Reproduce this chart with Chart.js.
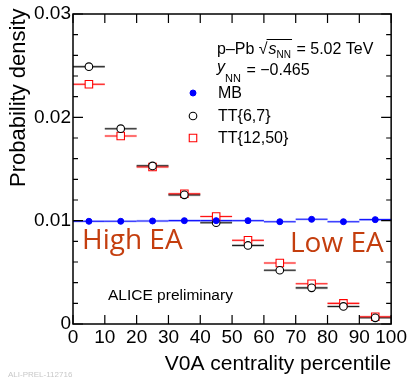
<!DOCTYPE html>
<html>
<head>
<meta charset="utf-8">
<script src="https://cdn.jsdelivr.net/npm/chart.js@4"></script>
<style>
  html, body { margin: 0; padding: 0; background: #fff; }
  #wrap { width: 409px; height: 378px; }
</style>
</head>
<body>
<div id="wrap"><canvas id="Density" width="409" height="378"></canvas></div>
<script>
// V0A centrality bins (percentile), bin centres and width
var binCenters = [5, 15, 25, 35, 45, 55, 65, 75, 85, 95];
var binWidth = 10;

// probability density per bin
var mbValues = [0.00994, 0.00994, 0.00997, 0.0100, 0.0100, 0.0100, 0.0099, 0.01013, 0.0099, 0.0101];
var tt67Values = [0.0249, 0.0189, 0.0153, 0.0125, 0.0098, 0.0076, 0.0052, 0.0035, 0.0017, 0.0006];
var tt1250Values = [0.0232, 0.0182, 0.0152, 0.0126, 0.0104, 0.0081, 0.0059, 0.0039, 0.0020, 0.0007];

var xTicks = [0, 10, 20, 30, 40, 50, 60, 70, 80, 90, 100];
var yTickLabels = ['0', '0.01', '0.02', '0.03'];

function points(vals) {
    return binCenters.map(function (c, i) { return { x: c, y: vals[i] }; });
}

var FONT = '"Liberation Sans", Arial, sans-serif';

// horizontal bin-width bars behind markers
var binBars = {
    id: 'binBars',
    beforeDatasetsDraw: function (chart) {
        var ctx = chart.ctx, xs = chart.scales.x, ys = chart.scales.y;
        ctx.save();
        chart.data.datasets.forEach(function (ds) {
            ds.data.forEach(function (p) {
                var x0 = xs.getPixelForValue(p.x - binWidth / 2);
                var x1 = xs.getPixelForValue(p.x + binWidth / 2);
                var y = ys.getPixelForValue(p.y);
                if (ds.bandColor) {
                    ctx.strokeStyle = ds.bandColor;
                    ctx.lineWidth = 2.6;
                    ctx.beginPath(); ctx.moveTo(x0, y); ctx.lineTo(x1, y); ctx.stroke();
                }
                ctx.strokeStyle = ds.barColor;
                ctx.lineWidth = 1.1;
                ctx.beginPath(); ctx.moveTo(x0, y); ctx.lineTo(x1, y); ctx.stroke();
            });
        });
        ctx.restore();
    }
};

// frame with inward ticks on all four sides, plus the text labels
var frame = {
    id: 'frame',
    afterDraw: function (chart) {
        var ctx = chart.ctx, a = chart.chartArea, xs = chart.scales.x, ys = chart.scales.y;
        ctx.save();
        ctx.strokeStyle = '#000';
        ctx.lineWidth = 1.5;
        ctx.strokeRect(a.left, a.top, a.right - a.left, a.bottom - a.top);
        ctx.lineWidth = 1.2;
        ctx.beginPath();
        xTicks.forEach(function (v) {
            var x = xs.getPixelForValue(v);
            ctx.moveTo(x, a.bottom); ctx.lineTo(x, a.bottom - 9);
            ctx.moveTo(x, a.top); ctx.lineTo(x, a.top + 9);
        });
        for (var k = 0; k <= 15; k++) {
            var v = k * 0.002;
            var y = ys.getPixelForValue(v);
            var len = (k % 5 === 0) ? 10 : 5;
            ctx.moveTo(a.left, y); ctx.lineTo(a.left + len, y);
            ctx.moveTo(a.right, y); ctx.lineTo(a.right - len, y);
        }
        ctx.stroke();

        ctx.fillStyle = '#000';
        ctx.textBaseline = 'alphabetic';

        // axis titles
        ctx.font = '21px ' + FONT;
        ctx.textAlign = 'right';
        ctx.fillText('V0A centrality percentile', a.right, 370);
        ctx.save();
        ctx.translate(25, 187);
        ctx.rotate(-Math.PI / 2);
        ctx.textAlign = 'left';
        ctx.font = '22px ' + FONT;
        ctx.fillText('Probability density', 0, 0);
        ctx.restore();

        // collision system
        ctx.textAlign = 'left';
        var x = 217;
        ctx.font = '16px ' + FONT;
        ctx.fillText('p\u2013Pb ', x, 54);
        x += ctx.measureText('p\u2013Pb ').width;
        ctx.fillText('\u221A', x, 54);
        var sx = x + ctx.measureText('\u221A').width;
        ctx.font = 'italic 16px ' + FONT;
        ctx.fillText('s', sx + 1, 54);
        var nx = sx + 1 + ctx.measureText('s').width;
        ctx.font = '10px ' + FONT;
        ctx.fillText('NN', nx, 58);
        var ex = nx + ctx.measureText('NN').width + 1;
        ctx.lineWidth = 1;
        ctx.beginPath(); ctx.moveTo(sx - 1, 39.5); ctx.lineTo(ex, 39.5); ctx.stroke();
        ctx.font = '16px ' + FONT;
        ctx.fillText(' = 5.02 TeV', ex, 54);

        ctx.font = 'italic 16px ' + FONT;
        ctx.fillText('y', 217, 72);
        ctx.font = '11px ' + FONT;
        ctx.fillText('NN', 225, 82);
        ctx.font = '16px ' + FONT;
        ctx.fillText(' = \u22120.465', 242, 75);

        // legend
        var legend = [
            { label: 'MB', y: 93 },
            { label: 'TT{6,7}', y: 116 },
            { label: 'TT{12,50}', y: 138 }
        ];
        ctx.textBaseline = 'middle';
        legend.forEach(function (e, i) {
            var ds = chart.data.datasets[i];
            ctx.fillStyle = ds.backgroundColor;
            ctx.strokeStyle = ds.borderColor;
            ctx.lineWidth = ds.borderWidth;
            ctx.beginPath();
            if (ds.pointStyle === 'rect') {
                var h = ds.pointRadius * Math.SQRT1_2;
                ctx.rect(193 - h, e.y - h, 2 * h, 2 * h);
            } else {
                ctx.arc(193, e.y, ds.pointRadius, 0, Math.PI * 2);
            }
            ctx.fill(); ctx.stroke();
            ctx.fillStyle = '#000';
            ctx.font = '16px ' + FONT;
            ctx.fillText(e.label, 218, e.y + 1);
        });

        // annotations
        ctx.textBaseline = 'alphabetic';
        ctx.fillStyle = 'rgb(196,62,14)';
        ctx.font = '28px "Open Sans", sans-serif';
        ctx.fillText('High EA', 82, 249);
        ctx.fillText('Low EA', 290, 252);
        ctx.fillStyle = '#000';
        ctx.font = '15.5px ' + FONT;
        ctx.fillText('ALICE preliminary', 108, 300);
        ctx.fillStyle = '#c8c8c8';
        ctx.font = '8px ' + FONT;
        ctx.fillText('ALI-PREL-112716', 8, 377);
        ctx.restore();
    }
};

var ctx = document.getElementById('Density').getContext('2d');
var chart = new Chart(ctx, {
    type: 'scatter',
    data: {
        datasets: [{
            label: 'MB',
            data: points(mbValues),
            pointStyle: 'circle',
            pointRadius: 3,
            borderWidth: 1,
            backgroundColor: 'rgb(0,0,255)',
            borderColor: 'rgb(0,0,255)',
            barColor: 'rgb(20,20,255)',
            bandColor: 'rgba(90,110,255,0.35)'
        }, {
            label: 'TT{6,7}',
            data: points(tt67Values),
            pointStyle: 'circle',
            pointRadius: 3.8,
            borderWidth: 1.1,
            backgroundColor: '#fff',
            borderColor: '#000',
            barColor: 'rgb(30,30,30)',
            bandColor: 'rgba(0,0,0,0.25)'
        }, {
            label: 'TT{12,50}',
            data: points(tt1250Values),
            pointStyle: 'rect',
            pointRadius: 5.3,
            borderWidth: 1.1,
            backgroundColor: '#fff',
            borderColor: 'rgb(255,0,0)',
            barColor: 'rgb(255,20,20)',
            bandColor: 'rgba(255,0,0,0.2)'
        }]
    },
    options: {
        responsive: false,
        maintainAspectRatio: false,
        animation: false,
        layout: { padding: { top: 14, right: 17, left: 0, bottom: 0 } },
        plugins: { legend: { display: false }, tooltip: { enabled: false } },
        scales: {
            x: {
                type: 'linear',
                min: 0,
                max: 100,
                afterBuildTicks: function (axis) {
                    axis.ticks = xTicks.map(function (v) { return { value: v }; });
                },
                grid: { display: false, drawTicks: false },
                border: { display: false },
                ticks: { font: { family: FONT, size: 19 }, color: '#000', padding: 2, maxRotation: 0, autoSkip: false },
                afterFit: function (axis) { axis.height = 54; }
            },
            y: {
                type: 'linear',
                min: 0,
                max: 0.03,
                afterBuildTicks: function (axis) {
                    axis.ticks = yTickLabels.map(function (t) { return { value: parseFloat(t) }; });
                },
                grid: { display: false, drawTicks: false },
                border: { display: false },
                ticks: {
                    font: { family: FONT, size: 19 }, color: '#000', padding: 2,
                    callback: function (v) { return yTickLabels[Math.round(v * 100)]; }
                },
                afterFit: function (axis) { axis.width = 73; }
            }
        }
    },
    plugins: [binBars, frame]
});
</script>
</body>
</html>
